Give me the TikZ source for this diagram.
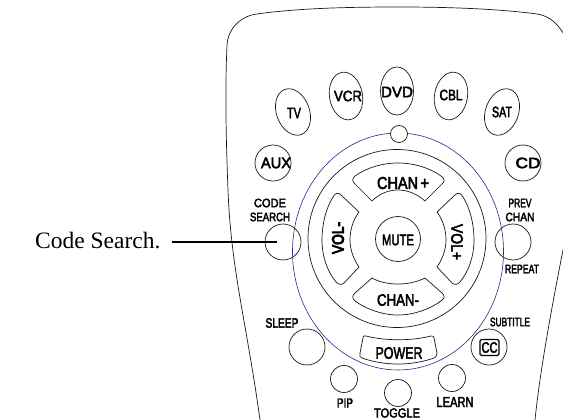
\documentclass[tikz,border=0pt]{standalone}
\usepackage{fontspec}
\usepackage{graphicx}
\setmainfont{Liberation Serif}
\newfontfamily\btnfont[FakeBold=3.2]{Liberation Sans}
\newfontfamily\volfont[FakeBold=6]{Liberation Sans}
\newcommand{\fitt}[3]{\resizebox{#1pt}{#2pt}{\btnfont #3}}
\newcommand{\fitv}[3]{\resizebox{#1pt}{#2pt}{\volfont #3}}
\usetikzlibrary{shapes.geometric}
\definecolor{ringblue}{RGB}{45,40,140}
\definecolor{ink}{RGB}{25,25,25}
\tikzset{
  oval/.style={draw=ink,ellipse,line width=.7pt,inner sep=0pt,minimum width=33pt,minimum height=48pt},
  btn/.style={draw=ink,circle,line width=.7pt,inner sep=0pt,minimum size=#1},
  lbl/.style={inner sep=0pt,text=black},
  shell/.style={draw=ink,line width=.7pt,line join=round},
}
\begin{document}
\begin{tikzpicture}[x=1pt,y=-1pt]
\useasboundingbox (0,0) rectangle (563,420);
\clip (0,0) rectangle (563,420);
% body outline
\draw[shell] (260,420) .. controls (247,325) and (231,270) .. (228,190)
  .. controls (226,140) and (225,90) .. (227,45)
  .. controls (228,28) and (241,16) .. (257,14)
  .. controls (300,8) and (350,7) .. (400,7)
  .. controls (450,7) and (500,9) .. (537,14)
  .. controls (550,16) and (558,24) .. (565,36);
\draw[shell] (535,420) .. controls (540,370) and (553,300) .. (565,240);
% ring and big circle
\node[draw=ringblue,ellipse,line width=.6pt,inner sep=0pt,minimum width=211pt,minimum height=237pt] (ring) at (398,251.5) {};
\node[btn=178pt] (inner) at (397,238.5) {};
\node[btn=17pt,fill=white] (led) at (399,134) {};
% source buttons
\node[oval,rotate=20] (tv) at (293,112) {};
\node[oval,rotate=10] (vcr) at (346,96) {};
\node[oval] (dvd) at (397,91) {};
\node[oval,rotate=-10] (cbl) at (451,96) {};
\node[oval,rotate=-20] (sat) at (502,112) {};
\node[btn=36pt] (aux) at (273,163) {};
\node[btn=36pt] (cd) at (523,163) {};
\node[btn=36pt] (code) at (283,242) {};
\node[btn=36pt] (prev) at (513,242) {};
\node[btn=45pt] (mute) at (398,239) {};
\node[btn=36pt] (sleep) at (307,347) {};
\node[btn=36pt] (cc) at (489,347) {};
\node[btn=27pt] (pip) at (344,379) {};
\node[btn=27pt] (toggle) at (398,393) {};
\node[btn=27pt] (learn) at (452,378) {};
% arrow keys
\draw[shell] (355,176) .. controls (366,168) and (382,163) .. (398,163)
  .. controls (414,163) and (430,168) .. (441,176)
  .. controls (445,179) and (445,181) .. (442,184)
  -- (425,201) .. controls (417,194) and (408,190) .. (398,190)
  .. controls (388,190) and (379,194) .. (372,201)
  -- (355,184) .. controls (352,181) and (352,179) .. (355,176) -- cycle;
\draw[shell] (355,301) .. controls (366,309) and (382,315) .. (398,315)
  .. controls (414,315) and (430,309) .. (441,301)
  .. controls (445,298) and (445,296) .. (442,293)
  -- (425,278) .. controls (417,282) and (408,284) .. (398,284)
  .. controls (388,284) and (379,282) .. (372,278)
  -- (355,293) .. controls (352,296) and (352,298) .. (355,301) -- cycle;
\draw[shell] (333,197) .. controls (326,208) and (322,224) .. (322,240)
  .. controls (322,256) and (327,271) .. (336,282)
  .. controls (339,285) and (341,285) .. (344,283)
  -- (359,267) .. controls (354,260) and (350,250) .. (350,240)
  .. controls (350,230) and (353,220) .. (359,212)
  -- (341,195) .. controls (338,192) and (335,193) .. (333,197) -- cycle;
\draw[shell] (463,197) .. controls (470,208) and (474,224) .. (474,240)
  .. controls (474,256) and (469,271) .. (460,282)
  .. controls (457,285) and (455,285) .. (452,283)
  -- (437,267) .. controls (442,260) and (446,250) .. (446,240)
  .. controls (446,230) and (443,220) .. (437,212)
  -- (455,195) .. controls (458,192) and (461,193) .. (463,197) -- cycle;
% power key
\draw[shell] (366,336) .. controls (385,341) and (412,341) .. (431,336)
  .. controls (433,336) and (434,336) .. (434,338)
  -- (437,353) .. controls (437,356) and (436,357) .. (434,358)
  .. controls (412,366) and (384,366) .. (362,358)
  .. controls (360,357) and (359,356) .. (360,353)
  -- (363,338) .. controls (363,336) and (364,335) .. (366,336) -- cycle;
% cc box
\node[draw=black,line width=1.2pt,rounded corners=1.5pt,minimum width=19pt,minimum height=16pt,inner sep=0pt,lbl] (ccbox) at (489.5,347.5) {\fitt{16}{10.5}{CC}};
% labels
\node[lbl] (ltv) at (294,113) {\fitt{14}{10.5}{TV}};
\node[lbl] (lvcr) at (348,96) {\fitt{28}{10.5}{VCR}};
\node[lbl] (ldvd) at (397,92) {\fitt{32}{10.5}{DVD}};
\node[lbl] (lcbl) at (451,95) {\fitt{23}{10.5}{CBL}};
\node[lbl] (lsat) at (502,112) {\fitt{20}{10.5}{SAT}};
\node[lbl] (laux) at (276,163) {\fitt{30}{10.5}{AUX}};
\node[lbl] (lcd) at (528,163) {\fitt{25}{10.5}{CD}};
\node[lbl] (lcode) at (270,203) {\fitt{32}{8.5}{CODE}};
\node[lbl] (lsearch) at (270,217) {\fitt{40}{8.5}{SEARCH}};
\node[lbl] (lprev) at (520,203) {\fitt{23}{8.5}{PREV}};
\node[lbl] (lchan) at (520,217) {\fitt{29}{8.5}{CHAN}};
\node[lbl] (lrepeat) at (522,269) {\fitt{34}{8.5}{REPEAT}};
\node[lbl] (lup) at (403,183) {\fitt{52}{12}{CHAN\,+}};
\node[lbl] (ldown) at (398,300) {\fitt{42}{11.5}{CHAN-}};
\node[lbl,rotate=90] (lvolm) at (338,238) {\fitv{32}{11.5}{VOL-}};
\node[lbl,rotate=-90] (lvolp) at (457,242) {\fitt{36}{11.5}{VOL+}};
\node[lbl] (lmute) at (398,240) {\fitt{32}{10.5}{MUTE}};
\node[lbl] (lsleep) at (282,323) {\fitt{33}{9.5}{SLEEP}};
\node[lbl] (lsub) at (510,322) {\fitt{40}{8.5}{SUBTITLE}};
\node[lbl] (lpower) at (399,353) {\fitt{47}{11.5}{POWER}};
\node[lbl] (lpip) at (345,403) {\fitt{16}{9}{PIP}};
\node[lbl] (ltoggle) at (397,413) {\fitt{46}{9}{TOGGLE}};
\node[lbl] (llearn) at (455,402) {\fitt{37}{10}{LEARN}};
% caption and leader
\node[lbl,anchor=base west,font=\fontsize{23.5}{26}\selectfont] (caption) at (35,248) {Code Search.};
\coordinate (leadstart) at (172,242);
\coordinate (leadend) at (277,242);
\draw[black,line width=1.4pt] (leadstart) -- (leadend);
\end{tikzpicture}
\end{document}
